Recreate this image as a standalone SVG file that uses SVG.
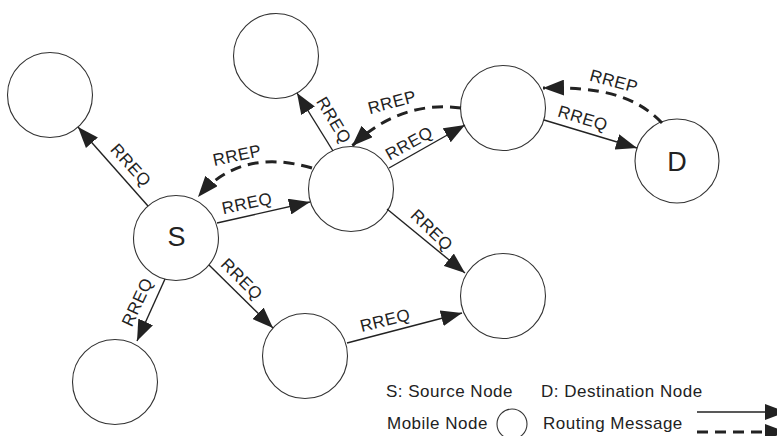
<svg xmlns="http://www.w3.org/2000/svg" width="777" height="436" viewBox="0 0 777 436">
<style>
.node{fill:#fff;stroke:#333;stroke-width:1.1}
.req{fill:none;stroke:#222;stroke-width:1.4;marker-end:url(#ah)}
.rep{fill:none;stroke:#222;stroke-width:3;stroke-dasharray:11 7;marker-end:url(#ah)}
.lbl{font-family:"Liberation Sans",Arial,sans-serif;font-size:17px;letter-spacing:0.5px;fill:#222;text-anchor:middle}
.big{font-family:"Liberation Sans",Arial,sans-serif;font-size:27px;fill:#222;text-anchor:middle}
.leg{font-family:"Liberation Sans",Arial,sans-serif;font-size:17px;letter-spacing:0.5px;fill:#222}
</style>
<defs>
<marker id="ah" markerUnits="userSpaceOnUse" markerWidth="22" markerHeight="16" refX="21" refY="8" orient="auto">
<path d="M0,0 L21,8 L0,16 Z" fill="#222"/>
</marker>
</defs>
<rect width="777" height="436" fill="#fff"/>
<g id="node-tl"><circle class="node" cx="50" cy="95" r="42.5"/></g>
<g id="node-tm"><circle class="node" cx="276" cy="56" r="42.5"/></g>
<g id="node-hub"><circle class="node" cx="351" cy="189" r="42.5"/></g>
<g id="node-tr"><circle class="node" cx="503" cy="108" r="42.5"/></g>
<g id="node-d"><circle class="node" cx="677" cy="161" r="42"/><text class="big" x="677" y="171">D</text></g>
<g id="node-s"><circle class="node" cx="176" cy="238" r="42.5"/><text class="big" x="176.5" y="246">S</text></g>
<g id="node-bl"><circle class="node" cx="115" cy="382" r="42.5"/></g>
<g id="node-bm"><circle class="node" cx="305" cy="356" r="42.5"/></g>
<g id="node-rm"><circle class="node" cx="503" cy="296" r="42.5"/></g>
<g id="connectors">
<path class="req" d="M148,206 L78,127"/>
<path class="req" d="M217,223 L310,202"/>
<path class="req" d="M333,151 L297,93"/>
<path class="req" d="M389,168 L465,125"/>
<path class="req" d="M544,120 L637,148"/>
<path class="req" d="M387,209 L465,273"/>
<path class="req" d="M165,279 L137,341"/>
<path class="req" d="M209,265 L273,328"/>
<path class="req" d="M347,343 L462,313"/>
<path class="rep" d="M312,168 Q240,147 198,197"/>
<path class="rep" d="M461,108 Q400,100 352,146"/>
<path class="rep" d="M662,123 C635,95 600,87 543,88"/>
<text class="lbl" transform="translate(131,165) rotate(48)" y="6">RREQ</text>
<text class="lbl" transform="translate(247,203) rotate(-12)" y="6">RREQ</text>
<text class="lbl" transform="translate(334,120) rotate(59)" y="6">RREQ</text>
<text class="lbl" transform="translate(409,143) rotate(-29)" y="6">RREQ</text>
<text class="lbl" transform="translate(583,118) rotate(17)" y="6">RREQ</text>
<text class="lbl" transform="translate(432,230) rotate(44)" y="6">RREQ</text>
<text class="lbl" transform="translate(137,302) rotate(-65)" y="6">RREQ</text>
<text class="lbl" transform="translate(242,279) rotate(45)" y="6">RREQ</text>
<text class="lbl" transform="translate(385,320) rotate(-14)" y="6">RREQ</text>
<text class="lbl" transform="translate(237,155) rotate(-12)" y="6">RREP</text>
<text class="lbl" transform="translate(392,102) rotate(-15)" y="6">RREP</text>
<text class="lbl" transform="translate(614,81) rotate(15)" y="6">RREP</text>
</g>
<g id="legend">
<text class="leg" x="386" y="397">S: Source Node</text>
<text class="leg" x="541" y="397">D: Destination Node</text>
<text class="leg" x="387" y="429">Mobile Node</text>
<circle class="node" cx="512" cy="424" r="15"/>
<text class="leg" x="543" y="429">Routing Message</text>
<path class="req" d="M697,412 L786,412"/>
<path class="rep" d="M697,432 L786,432"/>
</g>
</svg>
